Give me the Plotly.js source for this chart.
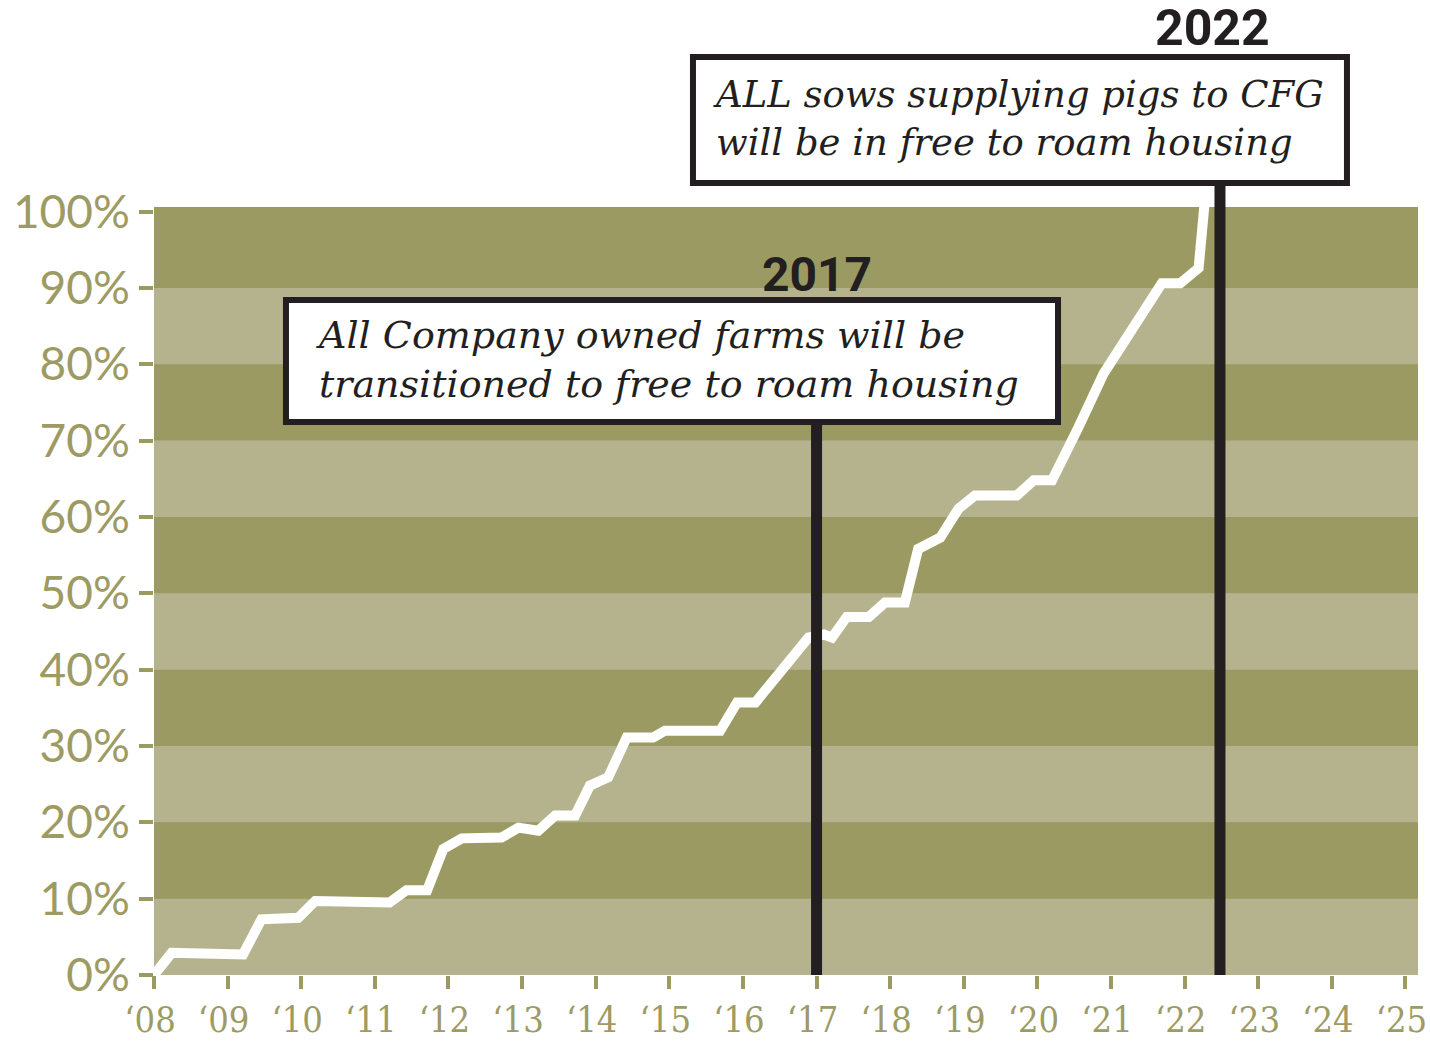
<!DOCTYPE html>
<html>
<head>
<meta charset="utf-8">
<script src="https://cdn.plot.ly/plotly-3.0.1.min.js"></script>
<style>html,body{margin:0;padding:0;background:#fff;}#chart{width:1430px;height:1045px;}</style>
</head>
<body>
<div id="chart"></div>
<script>
// Data
const years = [2008.0, 2008.24, 2009.21, 2009.46, 2009.96, 2010.19, 2011.2, 2011.43, 2011.71, 2011.93, 2012.18, 2012.72, 2012.95, 2013.22, 2013.45, 2013.72, 2013.92, 2014.17, 2014.42, 2014.78, 2014.94, 2015.69, 2015.92, 2016.17, 2016.89, 2017.1, 2017.21, 2017.41, 2017.71, 2017.93, 2018.2, 2018.38, 2018.68, 2018.93, 2019.15, 2019.72, 2019.95, 2020.2, 2020.56, 2020.9, 2021.69, 2021.94, 2022.19, 2022.27];
const pctFreeToRoam = [0, 2.9, 2.7, 7.3, 7.5, 9.7, 9.5, 11.1, 11.1, 16.5, 17.9, 18.0, 19.3, 18.9, 20.9, 20.9, 24.8, 25.9, 31.1, 31.1, 32.0, 32.0, 35.7, 35.7, 44.2, 44.6, 44.2, 46.9, 46.9, 48.8, 48.8, 55.8, 57.3, 61.1, 62.8, 62.8, 64.8, 64.8, 71.8, 78.8, 90.6, 90.6, 92.6, 101];
const xTickVals = [2008, 2009, 2010, 2011, 2012, 2013, 2014, 2015, 2016, 2017, 2018, 2019, 2020, 2021, 2022, 2023, 2024, 2025];
const xTickText = ["‘08", "‘09", "‘10", "‘11", "‘12", "‘13", "‘14", "‘15", "‘16", "‘17", "‘18", "‘19", "‘20", "‘21", "‘22", "‘23", "‘24", "‘25"];
const yTickVals = [0, 10, 20, 30, 40, 50, 60, 70, 80, 90, 100];
const yTickText = ["0%", "10%", "20%", "30%", "40%", "50%", "60%", "70%", "80%", "90%", "100%"];
const lightBands = [[0, 10], [20, 30], [40, 50], [60, 70], [80, 90]];
const milestoneYears = [2017, 2022.48];
const milestoneLabels = ["2017", "2022"];
const milestoneTexts = [
  "All Company owned farms will be<br>transitioned to free to roam housing",
  "ALL sows supplying pigs to CFG<br>will be in free to roam housing"
];

const OLIVE_DARK = "#9b9a62";
const OLIVE_LIGHT = "#b5b38d";
const OLIVE_TEXT = "#9d9b63";
const INK = "#231f20";

const shapes = [];
lightBands.forEach(b => shapes.push({
  type: "rect", xref: "paper", yref: "y", x0: 0, x1: 1, y0: b[0], y1: b[1],
  fillcolor: OLIVE_LIGHT, line: {width: 0}, layer: "below"
}));
// milestone vertical lines (from plot bottom to box bottom)
const lineTops = [0.717, 1.033];
milestoneYears.forEach((yr, i) => shapes.push({
  type: "line", xref: "x", yref: "paper", x0: yr, x1: yr, y0: 0, y1: lineTops[i],
  line: {color: INK, width: 11}, layer: "above"
}));
// callout boxes
const boxes = [
  {x0: 0.1044, x1: 0.7152, y0: 0.7201, y1: 0.8789},
  {x0: 0.4264, x1: 0.9438, y0: 1.0313, y1: 1.1953}
];
boxes.forEach(b => shapes.push({
  type: "rect", xref: "paper", yref: "paper", x0: b.x0, x1: b.x1, y0: b.y0, y1: b.y1,
  fillcolor: "#ffffff", line: {color: INK, width: 6}, layer: "above"
}));

const annotations = [
  {xref: "paper", yref: "paper", x: 0.1266, y: 0.8014, xanchor: "left", yanchor: "middle",
   text: "<i>" + milestoneTexts[0] + "</i>", showarrow: false, align: "left",
   font: {family: "DejaVu Serif", size: 38, color: INK, style: "italic"}},
  {xref: "paper", yref: "paper", x: 0.4407, y: 1.1152, xanchor: "left", yanchor: "middle",
   text: "<i>" + milestoneTexts[1] + "</i>", showarrow: false, align: "left",
   font: {family: "DejaVu Serif", size: 37, color: INK, style: "italic"}},
  {xref: "x", yref: "paper", x: milestoneYears[0], y: 0.912, xanchor: "center", yanchor: "middle",
   text: "<b>" + milestoneLabels[0] + "</b>", showarrow: false,
   font: {family: "Roboto", size: 48, color: INK}},
  {xref: "x", yref: "paper", x: milestoneYears[1] - 0.1, y: 1.233, xanchor: "center", yanchor: "middle",
   text: "<b>" + milestoneLabels[1] + "</b>", showarrow: false,
   font: {family: "Roboto", size: 50, color: INK}}
];

const trace = {
  x: years, y: pctFreeToRoam, type: "scatter", mode: "lines",
  line: {color: "#ffffff", width: 10}, hoverinfo: "skip"
};

const layout = {
  width: 1430, height: 1045,
  margin: {l: 154, r: 12, t: 207, b: 70},
  paper_bgcolor: "#ffffff",
  plot_bgcolor: OLIVE_DARK,
  showlegend: false,
  xaxis: {
    range: [2008, 2025.17], tickmode: "array", tickvals: xTickVals, ticktext: xTickText,
    showgrid: false, zeroline: false, showline: false,
    ticks: "outside", ticklen: 13, tickwidth: 4, tickcolor: OLIVE_DARK,
    ticklabeloverflow: "allow", ticklabelshift: -4,
    tickfont: {family: "DejaVu Serif Condensed", size: 36, color: OLIVE_TEXT},
    fixedrange: true
  },
  yaxis: {
    range: [0, 100.6], tickmode: "array", tickvals: yTickVals, ticktext: yTickText,
    showgrid: false, zeroline: false, showline: false,
    ticks: "outside", ticklen: 14, tickwidth: 4, tickcolor: OLIVE_DARK,
    ticklabeloverflow: "allow",
    tickfont: {family: "Lato", size: 46, color: OLIVE_TEXT},
    fixedrange: true
  },
  shapes: shapes,
  annotations: annotations
};

Plotly.newPlot("chart", [trace], layout, {displayModeBar: false, staticPlot: true});
</script>
</body>
</html>
